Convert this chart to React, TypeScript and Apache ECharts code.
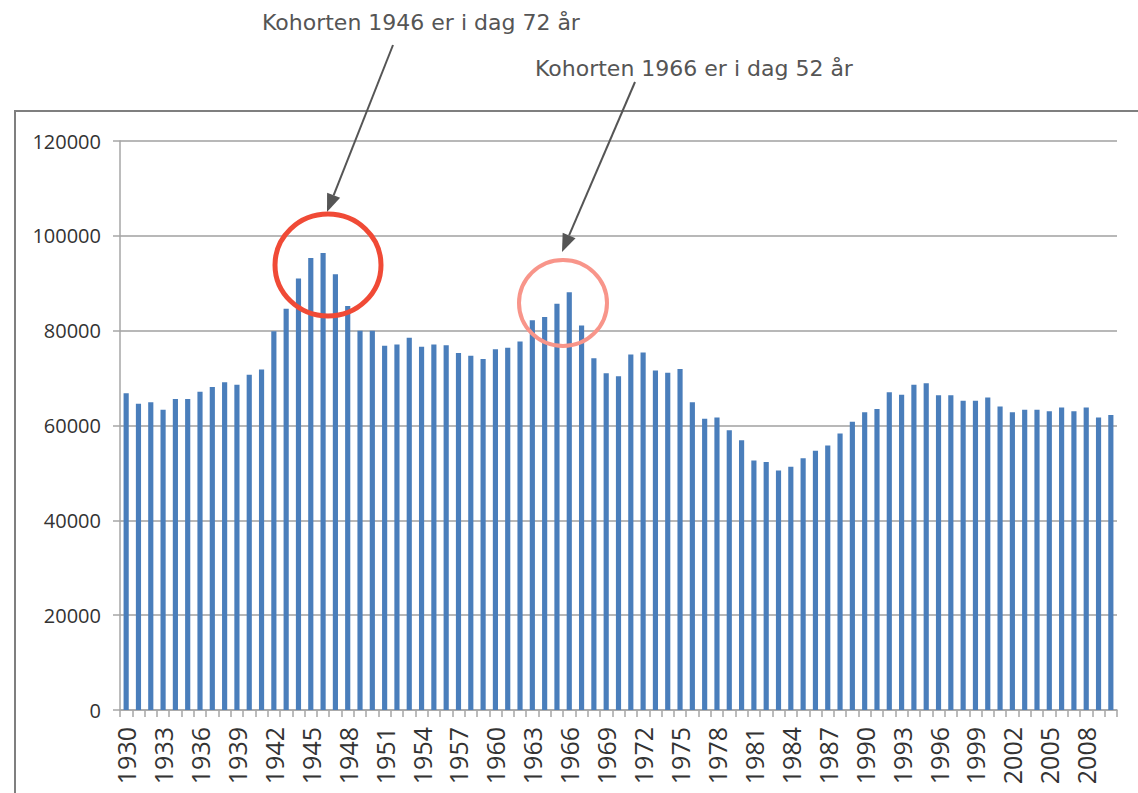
import React, { useEffect, useRef } from "react";
import * as echarts from "echarts";

const startYear = 1930;
const births = [
  66800, 64600, 64900, 63300, 65600, 65600, 67100, 68100, 69100, 68600,
  70700, 71800, 79900, 84600, 91000, 95300, 96400, 91900, 85200, 80000,
  80000, 76800, 77100, 78500, 76600, 77100, 76900, 75300, 74700, 74000,
  76100, 76400, 77700, 82200, 82900, 85700, 88100, 81100, 74200, 71000,
  70400, 75000, 75400, 71600, 71100, 71900, 64900, 61400, 61700, 59000,
  56900, 52600, 52300, 50500, 51300, 53100, 54700, 55800, 58300, 60800,
  62800, 63500, 67000, 66500, 68600, 68900, 66400, 66400, 65200, 65200,
  65900, 64000, 62800, 63300, 63300, 63000, 63800, 63000, 63800, 61700,
  62200,
];
const years = births.map((_, i) => String(startYear + i));
const annotations = ["Kohorten 1946 er i dag 72 år", "Kohorten 1966 er i dag 52 år"];

function arrow(x1: number, y1: number, x2: number, y2: number, color: string) {
  const dx = x2 - x1;
  const dy = y2 - y1;
  const len = Math.sqrt(dx * dx + dy * dy);
  const ux = dx / len;
  const uy = dy / len;
  const hl = 18;
  const hw = 7;
  const bx = x2 - hl * ux;
  const by = y2 - hl * uy;
  const nx = -uy;
  const ny = ux;
  return [
    {
      type: "line",
      z: 100,
      shape: { x1, y1, x2: bx, y2: by },
      style: { stroke: color, lineWidth: 2 },
    },
    {
      type: "polygon",
      z: 100,
      shape: {
        points: [
          [x2, y2],
          [bx + hw * nx, by + hw * ny],
          [bx - hw * nx, by - hw * ny],
        ],
      },
      style: { fill: color },
    },
  ];
}

export default function App() {
  const ref = useRef<HTMLDivElement>(null);
  useEffect(() => {
    document.body.style.margin = "0";
    const chart = echarts.init(ref.current!, null, { renderer: "svg" });
    const gray = "#555555";
    chart.setOption({
      animation: false,
      backgroundColor: "#ffffff",
      grid: { left: 120, right: 21, top: 141, bottom: 83, containLabel: false },
      xAxis: {
        type: "category",
        data: years,
        boundaryGap: true,
        axisLine: { show: true, lineStyle: { color: "#a6a6a6", width: 1.5 } },
        axisTick: { show: true, interval: 0, length: 7, lineStyle: { color: "#a6a6a6", width: 1.5 } },
        axisLabel: {
          interval: 2,
          rotate: 90,
          fontSize: 25,
          margin: 17,
          color: "#333333",
          fontFamily: "Open Sans",
        },
        splitLine: { show: false },
      },
      yAxis: {
        type: "value",
        min: 0,
        max: 120000,
        interval: 20000,
        axisLine: { show: true, lineStyle: { color: "#a6a6a6", width: 1.5 } },
        axisTick: { show: true, length: 7, lineStyle: { color: "#a6a6a6", width: 1.5 } },
        axisLabel: {
          fontSize: 20,
          margin: 19,
          color: "#333333",
          fontFamily: "Open Sans",
          formatter: (v: number) => String(v),
        },
        splitLine: { show: true, lineStyle: { color: "#b8b8b8", width: 1.8 } },
      },
      series: [
        {
          type: "bar",
          data: births,
          barWidth: "42%",
          itemStyle: { color: "#4a7ebb" },
        },
      ],
      graphic: [
        {
          type: "rect",
          z: 90,
          shape: { x: 15, y: 111, width: 1300, height: 900 },
          style: { fill: "none", stroke: "#7f7f7f", lineWidth: 2 },
        },
        {
          type: "text",
          z: 100,
          x: 262,
          y: 22,
          style: {
            text: annotations[0],
            fill: gray,
            font: "22px 'DejaVu Sans'",
            textVerticalAlign: "middle",
          },
        },
        {
          type: "text",
          z: 100,
          x: 535,
          y: 68,
          style: {
            text: annotations[1],
            fill: gray,
            font: "22px 'DejaVu Sans'",
            textVerticalAlign: "middle",
          },
        },
        ...arrow(393, 45, 327, 212, gray),
        ...arrow(635, 82, 562, 252, gray),
        {
          type: "ellipse",
          z: 100,
          shape: { cx: 328, cy: 265, rx: 53, ry: 51 },
          style: { fill: "none", stroke: "#f04a36", lineWidth: 5 },
        },
        {
          type: "ellipse",
          z: 100,
          shape: { cx: 563, cy: 303, rx: 44, ry: 43 },
          style: { fill: "none", stroke: "#f8958a", lineWidth: 4 },
        },
      ],
    });
    return () => chart.dispose();
  }, []);
  return (
    <div
      ref={ref}
      style={{ position: "absolute", left: 0, top: 0, width: 1138, height: 793 }}
    />
  );
}
